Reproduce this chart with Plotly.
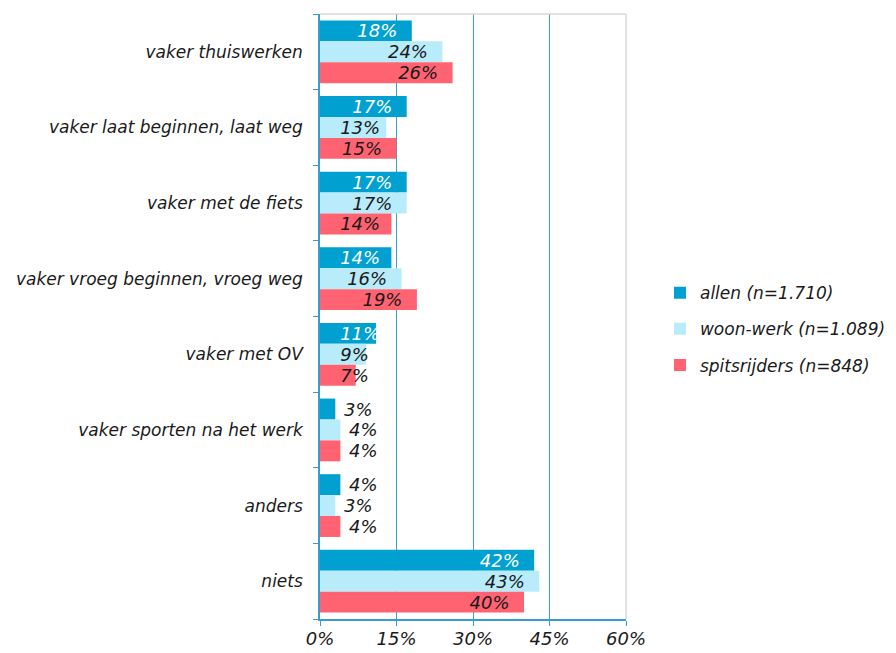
import plotly.graph_objects as go

categories = ["vaker thuiswerken", "vaker laat beginnen, laat weg", "vaker met de fiets",
              "vaker vroeg beginnen, vroeg weg", "vaker met OV", "vaker sporten na het werk",
              "anders", "niets"]
series_names = ["allen (n=1.710)", "woon-werk (n=1.089)", "spitsrijders (n=848)"]
allen = [18, 17, 17, 14, 11, 3, 4, 42]
woon_werk = [24, 13, 17, 16, 9, 4, 3, 43]
spitsrijders = [26, 15, 14, 19, 7, 4, 4, 40]
x_ticks = [0, 15, 30, 45, 60]

colors = ["#00A1D1", "#B8ECFB", "#FF6371"]
text_colors = ["white", "#1a1a1a", "#1a1a1a"]
FONT = "DejaVu Sans"
AX = "#3A9DCB"
NB = "\u00a0"


def kind(v):
    # how Excel placed each data label
    if v < 6:
        return "outside"
    if v < 15:
        return "clamped"
    return "end"


fig = go.Figure()
for i, (name, vals, col, tcol) in enumerate(zip(series_names, [allen, woon_werk, spitsrijders],
                                                  colors, text_colors)):
    grp = f"g{i}"
    main_txt, main_pos = [], []
    for v in vals:
        k = kind(v)
        if k == "end":
            main_txt.append(f"<i>{v}%{NB*2}</i>"); main_pos.append("inside")
        elif k == "outside":
            main_txt.append(f"<i>{NB}{v}%</i>"); main_pos.append("outside")
        else:
            main_txt.append(""); main_pos.append("none")
    fig.add_trace(go.Bar(
        y=categories, x=vals, name=f"<i>{name}</i>", orientation="h",
        marker=dict(color=col, line=dict(width=0)),
        text=main_txt, textposition=main_pos, insidetextanchor="end",
        insidetextfont=dict(family=FONT, size=18, color=tcol),
        outsidetextfont=dict(family=FONT, size=18, color="#1a1a1a"),
        textangle=0, constraintext="none", cliponaxis=False,
        offsetgroup=grp, legendgroup=name, hoverinfo="x+y",
    ))
    # labels for short bars: anchored at the start of the bar
    lab_x = [v if kind(v) == "clamped" else None for v in vals]
    fig.add_trace(go.Bar(
        y=categories, x=lab_x, orientation="h", showlegend=False,
        marker=dict(color="rgba(0,0,0,0)", line=dict(width=0)),
        text=[f"<i>{NB*3}{v}%</i>" if v is not None else "" for v in lab_x],
        textposition="inside", insidetextanchor="start",
        insidetextfont=dict(family=FONT, size=18, color=tcol),
        textangle=0, constraintext="none", cliponaxis=False,
        offsetgroup=grp, legendgroup=name, hoverinfo="skip",
    ))

fig.update_layout(
    width=896, height=653,
    margin=dict(l=320, r=270, t=14, b=34, autoexpand=False),
    plot_bgcolor="white", paper_bgcolor="white",
    barmode="group", bargap=0.17, bargroupgap=0,
    font=dict(family=FONT, size=17, color="#1a1a1a"),
    showlegend=True,
    legend=dict(x=1.111, y=0.479, xanchor="left", yanchor="middle",
                font=dict(family=FONT, size=17, color="#1a1a1a"),
                tracegroupgap=11, itemwidth=30),
    xaxis=dict(range=[0, 60], tickvals=x_ticks, ticktext=[f"<i>{t}%</i>" for t in x_ticks],
               showgrid=True, gridcolor=AX, gridwidth=1, zeroline=False,
               showline=True, linecolor=AX, linewidth=1.5, automargin=False,
               ticks="outside", ticklen=5, tickcolor=AX, ticklabelstandoff=-2,
               tickfont=dict(family=FONT, size=18, color="#1a1a1a")),
    yaxis=dict(autorange="reversed", showgrid=False, showline=True, linecolor=AX, linewidth=1.5,
               ticks="outside", ticklen=5, tickcolor=AX, tickson="boundaries", automargin=False,
               tickvals=categories, ticktext=[f"<i>{c}</i>" for c in categories],
               ticklabelstandoff=12,
               tickfont=dict(family=FONT, size=17, color="#1a1a1a")),
    shapes=[
        dict(type="line", xref="paper", yref="paper", x0=0, x1=1, y0=1, y1=1,
             line=dict(color="#D9D9D9", width=1.5)),
        dict(type="line", xref="paper", yref="paper", x0=1, x1=1, y0=0, y1=1,
             line=dict(color="#D9D9D9", width=1.5)),
    ],
)

fig.write_html("out.html", config={"displayModeBar": False},
               post_script="document.body.style.margin='0';")
